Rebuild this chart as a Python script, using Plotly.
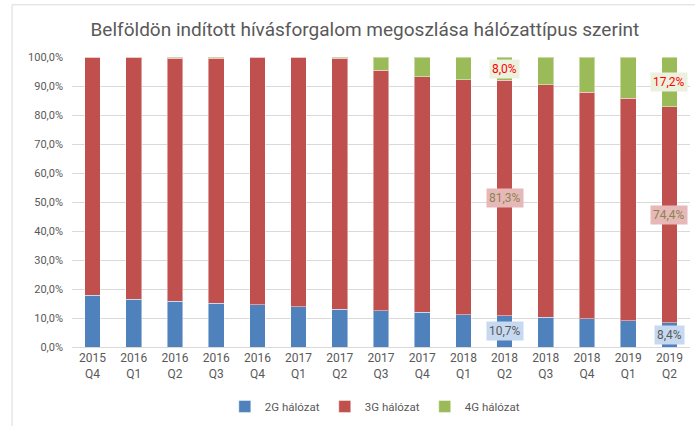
import plotly.graph_objects as go

categories = ["2015<br>Q4", "2016<br>Q1", "2016<br>Q2", "2016<br>Q3", "2016<br>Q4",
              "2017<br>Q1", "2017<br>Q2", "2017<br>Q3", "2017<br>Q4", "2018<br>Q1",
              "2018<br>Q2", "2018<br>Q3", "2018<br>Q4", "2019<br>Q1", "2019<br>Q2"]
g2 = [17.9, 16.4, 15.7, 15.1, 14.6, 13.9, 13.0, 12.5, 12.0, 11.2, 10.7, 10.3, 9.8, 9.1, 8.4]
g3 = [82.0, 83.5, 83.9, 84.5, 85.3, 86.0, 86.5, 83.0, 81.2, 80.9, 81.3, 80.1, 78.0, 76.6, 74.4]
g4 = [0.1, 0.1, 0.4, 0.4, 0.1, 0.1, 0.5, 4.5, 6.8, 7.9, 8.0, 9.6, 12.2, 14.3, 17.2]
labelled = [10, 14]  # indices of bars carrying data labels
y_tick_vals = [0, 10, 20, 30, 40, 50, 60, 70, 80, 90, 100]
y_tick_text = ["0,0%", "10,0%", "20,0%", "30,0%", "40,0%", "50,0%",
               "60,0%", "70,0%", "80,0%", "90,0%", "100,0%"]

series_names = ["2G hálózat", "3G hálózat", "4G hálózat"]
colors = ["#4F81BD", "#C0504D", "#9BBB59"]
FONT = "Roboto, sans-serif"
GRAY = "#595959"

fig = go.Figure()
for name, vals, col in zip(series_names, [g2, g3, g4], colors):
    fig.add_trace(go.Bar(
        x=categories, y=vals, name=name,
        marker=dict(color=col, line=dict(color="rgba(255,255,255,0.45)", width=1)),
        hoverinfo="skip",
    ))

label_styles = [
    (GRAY, "#C6D9F1"),
    ("#8C8450", "#E6B9B8"),
    ("#FF0000", "#EBF1DE"),
]
for i in labelled:
    base = 0.0
    for vals, (fc, bg) in zip([g2, g3, g4], label_styles):
        v = vals[i]
        fig.add_annotation(
            x=categories[i], y=base + v / 2, xref="x", yref="y",
            text=f"{v:.1f}".replace(".", ",") + "%",
            showarrow=False, bgcolor=bg, borderpad=2,
            font=dict(family=FONT, size=12, color=fc),
        )
        base += v

# chart frame border
fig.add_shape(type="rect", xref="paper", yref="paper",
              x0=-0.097, x1=1.2, y0=-0.4, y1=1.18,
              line=dict(color="#D9D9D9", width=1), layer="below")

fig.update_layout(
    width=695, height=426,
    margin=dict(l=72, r=5, t=57, b=76),
    barmode="stack", bargap=0.62,
    paper_bgcolor="white", plot_bgcolor="white",
    title=dict(text="Belföldön indított hívásforgalom megoszlása hálózattípus szerint",
               x=0.525, xanchor="center", y=0.93, yanchor="middle",
               font=dict(family=FONT, size=19, color=GRAY)),
    font=dict(family=FONT, color=GRAY),
    showlegend=True,
    legend=dict(orientation="h", x=0.49, xanchor="center", y=-0.155, yanchor="top",
                font=dict(family=FONT, size=11.5, color=GRAY), traceorder="normal",
                itemwidth=30),
    xaxis=dict(type="category", range=[-0.5, 14.5], showgrid=False,
               showline=True, linecolor="#D9D9D9", ticks="",
               tickfont=dict(family=FONT, size=12, color=GRAY)),
    yaxis=dict(range=[0, 100], tickvals=y_tick_vals, ticktext=y_tick_text,
               showgrid=True, gridcolor="#D9D9D9", gridwidth=1,
               zeroline=False, showline=False, ticks="", ticklabelstandoff=8,
               tickfont=dict(family=FONT, size=11, color=GRAY)),
)

fig.write_html("out.html", config={"displayModeBar": False},
               post_script="document.body.style.margin='0';")
